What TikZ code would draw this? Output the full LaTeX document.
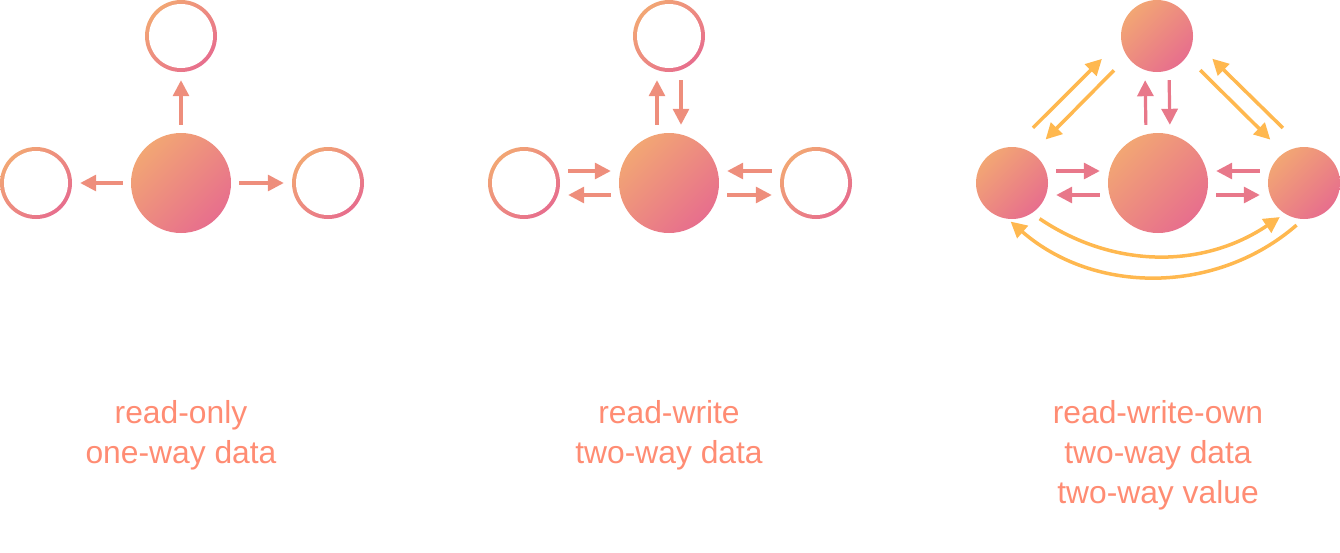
\documentclass[tikz,border=0pt]{standalone}
\usepackage{fontspec}
\setmainfont{Liberation Sans}
\usetikzlibrary{arrows.meta}

\definecolor{warm}{HTML}{F2A674}
\definecolor{rose}{HTML}{E76E8D}
\definecolor{flow}{HTML}{EE8E7C}
\definecolor{pinkflow}{HTML}{E8788A}
\definecolor{gold}{HTML}{FFB84F}
\definecolor{tagcolor}{HTML}{FF8C73}

\tikzset{
  blob/.style={circle, inner sep=0pt, minimum size=#1, top color=warm, bottom color=rose, shading angle=45},
  ring/.style={blob=72pt, path picture={\fill[white] (path picture bounding box.center) circle (32pt);}},
  flowarrow/.style={line width=3.2pt, color=flow, -{Triangle[width=16pt,length=16pt]}, shorten <=8pt, shorten >=8pt},
  pinkarrow/.style={flowarrow, color=pinkflow},
  goldarrow/.style={line width=3.5pt, color=gold, -{Triangle[width=16pt,length=16pt]}},
  tagline/.style={text=tagcolor, align=center, anchor=base, font={\fontsize{31.8}{40}\selectfont}}
}

\begin{document}
\begin{tikzpicture}[x=1pt,y=1pt]
\useasboundingbox (0,0) rectangle (1340,-552);

% read-only
\node[ring] (t1) at (181,-36) {};
\node[ring] (l1) at (36,-183) {};
\node[ring] (r1) at (328,-183) {};
\node[blob=100pt] (c1) at (181,-183) {};
\draw[flowarrow] (c1.north) -- (t1.south);
\draw[flowarrow] (c1.west) -- (l1.east);
\draw[flowarrow] (c1.east) -- (r1.west);

% read-write
\node[ring] (t2) at (669,-36) {};
\node[ring] (l2) at (524,-183) {};
\node[ring] (r2) at (816,-183) {};
\node[blob=100pt] (c2) at (669,-183) {};
\draw[flowarrow] ([xshift=-12pt]c2.north) -- ([xshift=-12pt]t2.south);
\draw[flowarrow] ([xshift=12pt]t2.south) -- ([xshift=12pt]c2.north);
\foreach \side/\near/\far in {l2/east/west, r2/west/east} {
    \draw[flowarrow] ([yshift=12pt]\side.\near) -- ([yshift=12pt]c2.\far);
    \draw[flowarrow] ([yshift=-12pt]c2.\far) -- ([yshift=-12pt]\side.\near);
}

% read-write-own
\node[blob=72pt] (t3) at (1157,-36) {};
\node[blob=72pt] (l3) at (1012,-183) {};
\node[blob=72pt] (r3) at (1304,-183) {};
\node[blob=100pt] (c3) at (1158,-183) {};
\draw[pinkarrow] ([xshift=-12pt]c3.north) -- ([xshift=-12pt]t3.south);
\draw[pinkarrow] ([xshift=12pt]t3.south) -- ([xshift=12pt]c3.north);
\foreach \side/\near/\far in {l3/east/west, r3/west/east} {
    \draw[pinkarrow] ([yshift=12pt]\side.\near) -- ([yshift=12pt]c3.\far);
    \draw[pinkarrow] ([yshift=-12pt]c3.\far) -- ([yshift=-12pt]\side.\near);
}

% value paths
\draw[goldarrow, shorten <=27pt, shorten >=27pt] (l3.87) -- (t3.186);
\draw[goldarrow, shorten <=19pt, shorten >=19pt] (t3.215) -- (l3.56);
\draw[goldarrow, shorten <=27pt, shorten >=27pt] (r3.93) -- (t3.354);
\draw[goldarrow, shorten <=19pt, shorten >=19pt] (t3.325) -- (r3.124);
\draw[goldarrow, shorten <=9.5pt, shorten >=6pt] (l3.-57) to[bend right=34] (r3.-122);
\draw[goldarrow, shorten <=9pt, shorten >=4pt] (r3.-91) to[bend left=41] (l3.-97);

% captions (base = last line)
\node[tagline] (n1) at (181,-463) {read-only\\one-way data};
\node[tagline] (n2) at (669,-463) {read-write\\two-way data};
\node[tagline] (n3) at (1158,-503) {read-write-own\\two-way data\\two-way value};

\end{tikzpicture}
\end{document}
